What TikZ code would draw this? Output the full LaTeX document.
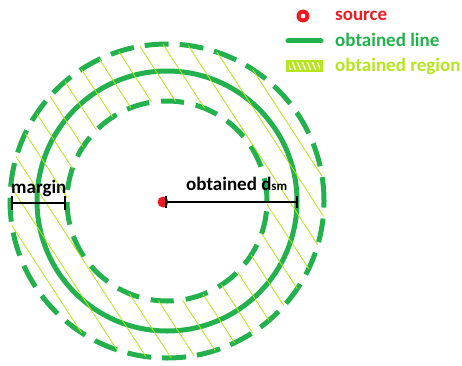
\documentclass[tikz,border=0pt]{standalone}
\usepackage{fontspec}
\setmainfont{Carlito}
\definecolor{pgreen}{RGB}{34,177,76}
\definecolor{pred}{RGB}{237,28,36}
\definecolor{plime}{RGB}{181,230,29}
\begin{document}
\begin{tikzpicture}[x=1pt,y=1pt,
  ring/.style={draw=pgreen, line width=5pt},
  dashring/.style={ring, dash pattern=on 24pt off 11pt},
  hatchline/.style={draw=plime, line width=0.8pt},
  dim/.style={draw=black, line width=2.2pt},
  lbl/.style={font=\bfseries\fontsize{19}{22}\selectfont, inner sep=0pt, anchor=base west}]
\useasboundingbox (0,0) rectangle (462,365);
\coordinate (c) at (167,164);
% circles
\draw[dashring] (c) circle (157);
\draw[ring] (c) circle (130);
\draw[dashring, dash pattern=on 23pt off 12pt] (c) circle (100);
% hatching of the region
\begin{scope}[even odd rule]
  \clip (c) circle (157) (c) circle (100);
  \begin{scope}[shift={(c)}, rotate=33]
    \foreach \i in {-9,...,9} \draw[hatchline] (\i*20.5,-200) -- (\i*20.5,200);
  \end{scope}
\end{scope}
% source dot
\fill[pred] (163,163) circle (5.5);
% dimension: margin
\coordinate (m1) at (12,162);
\coordinate (m2) at (65,162);
\draw[dim] (m1) -- (m2);
\draw[dim] ([yshift=7pt]m1) -- ([yshift=-7pt]m1);
\draw[dim] ([yshift=7pt]m2) -- ([yshift=-7pt]m2);
\node[lbl] (margintxt) at (11,172) {margin};
% dimension: obtained d_sm
\coordinate (d1) at (166,163);
\coordinate (d2) at (297,163);
\draw[dim] (d1) -- (d2);
\draw[dim] ([yshift=6pt]d1) -- ([yshift=-6pt]d1);
\draw[dim] ([yshift=6pt]d2) -- ([yshift=-6pt]d2);
\node[lbl] (dsmtxt) at (186,175) {obtained d{\fontsize{13}{14}\selectfont sm}};
% legend
\node[circle, fill=pred, minimum size=13pt, inner sep=0pt] (srcmark) at (303,349) {};
\fill[white] (srcmark.center) circle (2.3);
\node[lbl, text=pred] (srctxt) at (335,344) {source};
\coordinate (la) at (288,324);
\coordinate (lb) at (321,324);
\draw[pgreen, line width=5pt, line cap=round] (la) -- (lb);
\node[lbl, text=pgreen] (linetxt) at (335,319) {obtained line};
\node[fill=plime, minimum width=37pt, minimum height=12pt, inner sep=0pt] (regbox) at (304.5,299) {};
\begin{scope}
  \clip ([xshift=3pt,yshift=2.5pt]regbox.south west) rectangle ([xshift=-3pt,yshift=-2.5pt]regbox.north east);
  \foreach \k in {0,...,7} \draw[white, line width=1.3pt] (286+\k*5,306) -- (292+\k*5,292);
\end{scope}
\node[lbl, text=plime] (regtxt) at (335,294) {obtained region};
\end{tikzpicture}
\end{document}
